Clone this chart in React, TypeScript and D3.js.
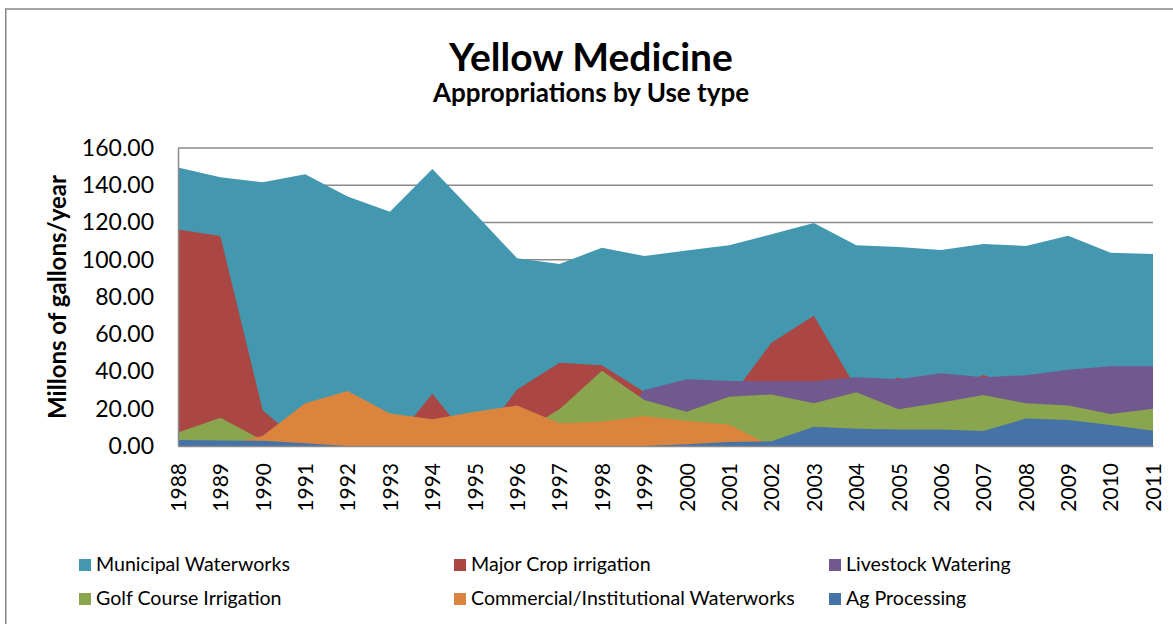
import React, { useRef, useEffect } from 'react';
import * as d3 from 'd3';

const years = [
  '1988', '1989', '1990', '1991', '1992', '1993', '1994', '1995', '1996', '1997', '1998', '1999',
  '2000', '2001', '2002', '2003', '2004', '2005', '2006', '2007', '2008', '2009', '2010', '2011',
];

const municipal = [149.5, 144.3, 141.6, 145.9, 133.9, 125.8, 148.7, 125, 100.8, 97.7, 106.5, 102, 104.9, 107.8, 113.7, 119.7, 107.8, 106.8, 105.2, 108.5, 107.4, 112.9, 103.8, 103.1];
const majorCrop = [116.3, 112.7, 19, 0, 0, 0, 28, 0, 30.4, 44.7, 43.3, 29, 25, 25, 55.5, 70, 31, 36.7, 30, 38.1, 30, 30, 30, 30];
const livestock = [0, 0, 0, 0, 0, 0, 0, 0, 0, 0, 0, 30.1, 35.8, 34.9, 34.7, 34.7, 36.9, 35.8, 39, 36.9, 38, 41, 42.8, 42.8];
const golf = [7.2, 15.2, 3, 0, 0, 0, 0, 0, 6, 19.7, 40.4, 24.7, 18.4, 26.5, 27.7, 22.9, 28.8, 19.7, 23.3, 27.4, 22.9, 21.7, 17.2, 20];
const commercial = [0, 0, 5.5, 22.9, 29.5, 17.5, 14.3, 18.4, 21.7, 12.2, 13.1, 16.1, 13.4, 11.6, 0, 0, 0, 0, 0, 0, 0, 0, 0, 0];
const agProcessing = [3.2, 3, 2.8, 1.5, 0, 0, 0, 0, 0, 0, 0, 0, 1, 2.1, 2.5, 10.4, 9.3, 8.8, 8.8, 8.1, 14.7, 14, 11.3, 8.2];

const yTicks = [0, 20, 40, 60, 80, 100, 120, 140, 160];

// drawn back to front, like Excel's (non-stacked) area chart
const series = [
  { name: 'Municipal Waterworks', values: municipal, color: '#4398AF' },
  { name: 'Major Crop irrigation', values: majorCrop, color: '#AA4744' },
  { name: 'Livestock Watering', values: livestock, color: '#71588F' },
  { name: 'Golf Course Irrigation', values: golf, color: '#89A54E' },
  { name: 'Commercial/Institutional Waterworks', values: commercial, color: '#DB843D' },
  { name: 'Ag Processing', values: agProcessing, color: '#4572A7' },
];

const FONT = "Lato, 'Open Sans', sans-serif";

const App = () => {
  const svgRef = useRef<SVGSVGElement>(null);

  useEffect(() => {
    const svg = d3.select(svgRef.current);
    svg.selectAll('*').remove();

    const width = 1173;
    const height = 624;
    const plot = { left: 178, right: 1153, top: 148, bottom: 446 };

    svg.attr('width', width).attr('height', height);

    svg.append('rect')
      .attr('x', 5.75).attr('y', 9)
      .attr('width', 1300).attr('height', 800)
      .attr('fill', '#fff')
      .attr('stroke', '#868686')
      .attr('stroke-width', 1.5);

    const x = d3.scalePoint<string>()
      .domain(years)
      .range([plot.left, plot.right]);

    const y = d3.scaleLinear()
      .domain([0, 160])
      .range([plot.bottom, plot.top]);

    // gridlines
    svg.append('g')
      .selectAll('line')
      .data(yTicks.slice(1))
      .join('line')
      .attr('x1', plot.left).attr('x2', plot.right)
      .attr('y1', d => y(d)).attr('y2', d => y(d))
      .attr('stroke', '#8a8a8a')
      .attr('stroke-width', 1.5);

    const area = (vals: number[]) => d3.area<number>()
      .x((_, i) => x(years[i]) as number)
      .y0(y(0))
      .y1(d => y(d))(vals);

    svg.append('g')
      .selectAll('path')
      .data(series)
      .join('path')
      .attr('d', d => area(d.values))
      .attr('fill', d => d.color);

    // axes
    const yAxis = svg.append('g')
      .attr('transform', `translate(${plot.left},0)`)
      .call(d3.axisLeft(y).tickValues(yTicks).tickFormat(d3.format('.2f')).tickSize(0).tickPadding(24));
    yAxis.select('.domain').attr('stroke', '#8a8a8a').attr('stroke-width', 1.5);
    yAxis.selectAll('.tick text')
      .attr('font-family', FONT).attr('font-size', 23).attr('fill', '#000');

    const xAxis = svg.append('g')
      .attr('transform', `translate(0,${plot.bottom})`)
      .call(d3.axisBottom(x).tickSize(0).tickSizeOuter(0));
    xAxis.select('.domain').attr('stroke', '#8a8a8a').attr('stroke-width', 1.5);
    xAxis.selectAll('.tick text')
      .attr('font-family', FONT).attr('font-size', 21).attr('fill', '#000')
      .attr('transform', 'rotate(-90)')
      .attr('text-anchor', 'end')
      .attr('x', -17).attr('y', 0).attr('dy', '0.35em');

    // titles
    svg.append('text')
      .attr('x', 591).attr('y', 71)
      .attr('text-anchor', 'middle')
      .attr('font-family', FONT).attr('font-weight', 'bold').attr('font-size', 39)
      .text('Yellow Medicine');

    svg.append('text')
      .attr('x', 591).attr('y', 102)
      .attr('text-anchor', 'middle')
      .attr('font-family', FONT).attr('font-weight', 'bold').attr('font-size', 26)
      .text('Appropriations by Use type');

    svg.append('text')
      .attr('transform', `translate(66,${(plot.top + plot.bottom) / 2}) rotate(-90)`)
      .attr('text-anchor', 'middle')
      .attr('font-family', FONT).attr('font-weight', 'bold').attr('font-size', 24)
      .text('Millons of gallons/year');

    // legend: 3 columns x 2 rows
    const legend = svg.append('g')
      .selectAll('g')
      .data(series)
      .join('g')
      .attr('transform', (_, i) => `translate(${79 + (i % 3) * 375},${559 + Math.floor(i / 3) * 34})`);

    legend.append('rect')
      .attr('width', 12).attr('height', 12)
      .attr('fill', d => d.color);

    legend.append('text')
      .attr('x', 17).attr('y', 12)
      .attr('font-family', FONT).attr('font-size', 19.6).attr('fill', '#000')
      .text(d => d.name);
  }, []);

  return (
    <div style={{ position: 'absolute', left: 0, top: 0, width: 1173, height: 624, overflow: 'hidden' }}>
      <svg ref={svgRef}></svg>
    </div>
  );
};

export default App;
